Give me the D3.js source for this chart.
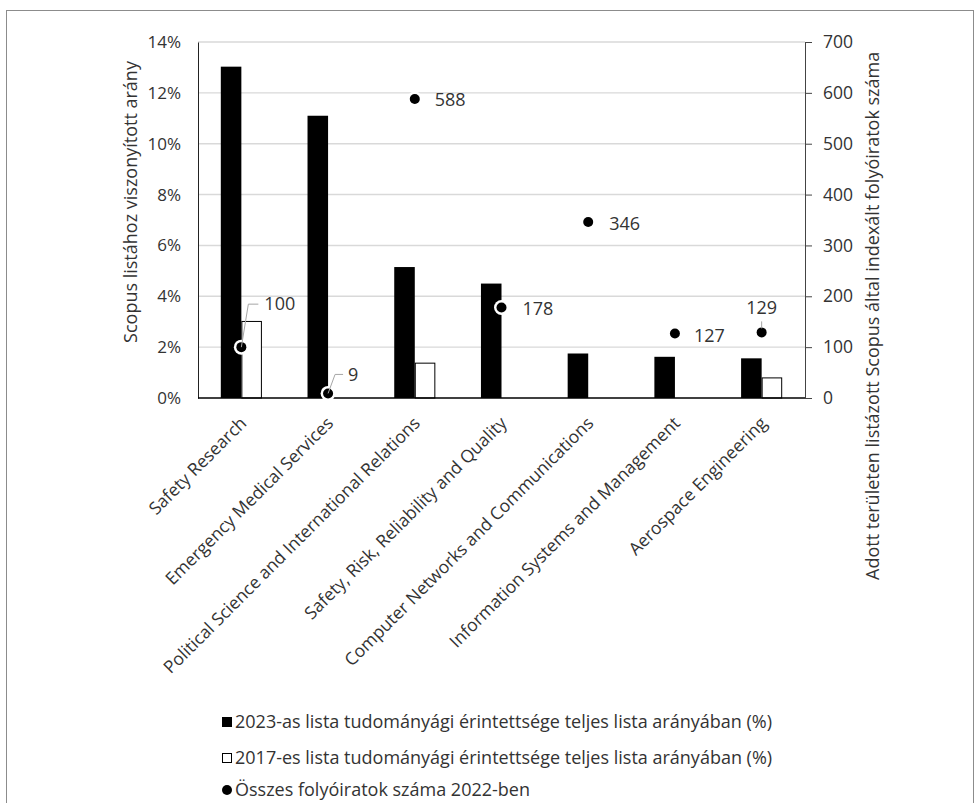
<!DOCTYPE html>
<html>
<head>
<meta charset="utf-8">
<script src="https://cdn.jsdelivr.net/npm/d3@7"></script>
<style>
body { margin: 0; background: #fff; }
svg text { font-family: "Open Sans", sans-serif; fill: #333; }
</style>
</head>
<body>
<svg id="chart" width="980" height="803"></svg>
<script>
// adatok
let categories = ["Safety Research", "Emergency Medical Services", "Political Science and International Relations",
	"Safety, Risk, Reliability and Quality", "Computer Networks and Communications",
	"Information Systems and Management", "Aerospace Engineering"];
let share2023 = [13.03, 11.1, 5.15, 4.5, 1.75, 1.62, 1.56];
let share2017 = [3.03, 0, 1.39, 0, 0, 0, 0.81];
let journals2022 = [100, 9, 588, 178, 346, 127, 129];
let leftTicks = [0, 2, 4, 6, 8, 10, 12, 14];
let rightTicks = [0, 100, 200, 300, 400, 500, 600, 700];
let legendLabels = ["2023-as lista tudományági érintettsége teljes lista arányában (%)",
	"2017-es lista tudományági érintettsége teljes lista arányában (%)",
	"Összes folyóiratok száma 2022-ben"];

// cimkek elhelyezese (pont kozeppontjahoz kepest)
let labelPlace = [
	{dx: 23, dy: -43, anchor: "start", leader: [[0, 0], [7, -43], [17, -43]]},
	{dx: 20, dy: -19, anchor: "start", leader: [[0, 0], [7, -19], [15, -19]]},
	{dx: 20, dy: 1, anchor: "start"},
	{dx: 21, dy: 1, anchor: "start"},
	{dx: 21, dy: 2, anchor: "start"},
	{dx: 19, dy: 2, anchor: "start"},
	{dx: 0, dy: -25, anchor: "middle", leader: [[0, -4], [0, -11]]}
];

let svg = d3.select("#chart");
let marginLeft = 198, marginTop = 42;
let plotW = 607, plotH = 356;

svg.append("rect")
	.attr("x", 6.5).attr("y", 10.5)
	.attr("width", 967).attr("height", 820)
	.attr("fill", "none").attr("stroke", "#8c8c8c");

let g = svg.append("g").attr("transform", `translate(${marginLeft}, ${marginTop})`);

let scaleX = d3.scaleBand().domain(categories).range([0, plotW]);
let scaleY = d3.scaleLinear().domain([0, 14]).range([plotH, 0]);
let scaleY2 = d3.scaleLinear().domain([0, 700]).range([plotH, 0]);
let barW = scaleX.bandwidth() * 0.237;

// racsvonalak
g.selectAll(".grid")
	.data(leftTicks.slice(1))
	.enter()
	.append("line")
	.attr("x1", 0).attr("x2", plotW)
	.attr("y1", d => scaleY(d)).attr("y2", d => scaleY(d))
	.attr("stroke", "#d9d9d9").attr("stroke-width", 1.4);

// oszlopok 2023
g.selectAll(".bar23")
	.data(categories)
	.enter()
	.append("rect")
	.attr("x", d => scaleX(d) + scaleX.bandwidth() / 2 - barW)
	.attr("y", (d, i) => scaleY(share2023[i]))
	.attr("width", barW)
	.attr("height", (d, i) => plotH - scaleY(share2023[i]))
	.attr("fill", "#000");

// oszlopok 2017
g.selectAll(".bar17")
	.data(categories.filter((d, i) => share2017[i] > 0))
	.enter()
	.append("rect")
	.attr("x", d => scaleX(d) + scaleX.bandwidth() / 2 + 0.5)
	.attr("y", d => scaleY(share2017[categories.indexOf(d)]) + 0.5)
	.attr("width", barW - 1)
	.attr("height", d => plotH - scaleY(share2017[categories.indexOf(d)]) - 0.5)
	.attr("fill", "#fff").attr("stroke", "#000").attr("stroke-width", 1);

// tengelyek
let axisL = d3.axisLeft(scaleY).tickValues(leftTicks).tickFormat(d => d + "%").tickSize(0).tickPadding(17);
let gl = g.append("g").call(axisL);
gl.select(".domain").attr("stroke", "#222");
gl.selectAll("text").style("font-size", "17px").attr("fill", "#333");

let axisR = d3.axisRight(scaleY2).tickValues(rightTicks).tickSizeInner(7).tickSizeOuter(0).tickPadding(11);
let gr = g.append("g").attr("transform", `translate(${plotW}, 0)`).call(axisR);
gr.select(".domain").attr("stroke", "#444");
gr.selectAll("line").attr("stroke", "#444");
gr.selectAll("text").style("font-size", "17.5px").attr("fill", "#333");

g.append("line")
	.attr("x1", 0).attr("x2", plotW)
	.attr("y1", plotH).attr("y2", plotH)
	.attr("stroke", "#000").attr("stroke-width", 1.3);

// x cimkek
g.selectAll(".xlab")
	.data(categories)
	.enter()
	.append("text")
	.attr("transform", d => `translate(${scaleX(d) + scaleX.bandwidth() / 2 + 2}, ${plotH + 22}) rotate(-45)`)
	.attr("text-anchor", "end")
	.attr("dy", "0.35em")
	.style("font-size", "17.5px")
	.text(d => d);

// pontok
let dots = g.selectAll(".dot")
	.data(categories)
	.enter()
	.append("g")
	.attr("transform", (d, i) => `translate(${scaleX(d) + scaleX.bandwidth() / 2}, ${scaleY2(journals2022[i])})`);
dots.append("circle").attr("r", 7.5).attr("fill", "#fff");
dots.append("circle").attr("r", 5).attr("fill", "#000");

// adatcimkek
dots.each(function(d, i) {
	let p = labelPlace[i];
	let sel = d3.select(this);
	if (p.leader) {
		sel.append("path")
			.attr("d", d3.line()(p.leader))
			.attr("fill", "none").attr("stroke", "#a6a6a6").attr("stroke-width", 1);
	}
	sel.append("text")
		.attr("x", p.dx).attr("y", p.dy)
		.attr("dy", "0.35em")
		.attr("text-anchor", p.anchor)
		.style("font-size", "18px")
		.text(journals2022[i]);
});

// tengelycimek
svg.append("text")
	.attr("transform", "translate(137, 202) rotate(-90)")
	.attr("text-anchor", "middle")
	.style("font-size", "18px")
	.text("Scopus listához viszonyított arány");

svg.append("text")
	.attr("transform", "translate(879, 580) rotate(-90)")
	.attr("text-anchor", "start")
	.style("font-size", "18px")
	.text("Adott területen listázott Scopus által indexált folyóiratok száma");

// jelmagyarazat
let legY = [722, 758, 790];
svg.append("rect").attr("x", 222).attr("y", legY[0] - 5).attr("width", 10).attr("height", 10).attr("fill", "#000");
svg.append("rect").attr("x", 222.5).attr("y", legY[1] - 4.5).attr("width", 9).attr("height", 9)
	.attr("fill", "#fff").attr("stroke", "#000");
svg.append("circle").attr("cx", 227).attr("cy", legY[2]).attr("r", 5).attr("fill", "#000");
svg.selectAll(".leg")
	.data(legendLabels)
	.enter()
	.append("text")
	.attr("x", 235)
	.attr("y", (d, i) => legY[i])
	.attr("dy", "0.35em")
	.style("font-size", "18px")
	.attr("fill", "#222")
	.text(d => d);
</script>
</body>
</html>
